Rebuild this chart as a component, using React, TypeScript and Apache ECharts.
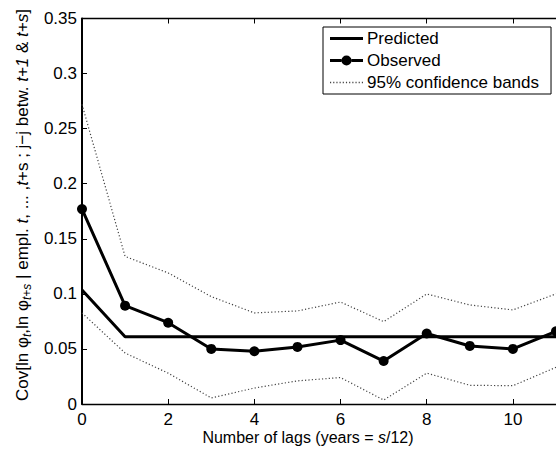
import React, { useEffect, useRef } from "react";
import * as echarts from "echarts";

const lags = [0, 1, 2, 3, 4, 5, 6, 7, 8, 9, 10, 11];
const predicted = [0.1035, 0.061, 0.061, 0.061, 0.061, 0.061, 0.061, 0.061, 0.061, 0.061, 0.061, 0.061];
const observed = [0.177, 0.0893, 0.0738, 0.05, 0.0479, 0.0518, 0.058, 0.039, 0.064, 0.0527, 0.05, 0.066];
const upperBand = [0.272, 0.134, 0.119, 0.0975, 0.0827, 0.0845, 0.0926, 0.0748, 0.0999, 0.0899, 0.0854, 0.1];
const lowerBand = [0.0827, 0.0463, 0.028, 0.0055, 0.0145, 0.021, 0.024, 0.0036, 0.028, 0.017, 0.0166, 0.0333];

const xTicks = [0, 2, 4, 6, 8, 10];
const yTickLabels = ["0", "0.05", "0.1", "0.15", "0.2", "0.25", "0.3", "0.35"];

const FONT = "'Liberation Sans', Arial, Helvetica, sans-serif";

const pairs = (arr: number[]) => lags.map((x, i) => [x, arr[i]]);

// legend icon shapes (line samples)
const solidIcon = "path://M0,0h33v3h-33z";
const markerIcon =
  "path://M0,3.5h11.5v3h-11.5z M21.5,3.5h11.5v3h-11.5z M11.5,5a5,5 0 1,0 10,0a5,5 0 1,0 -10,0z";
let dots = "path://";
for (let k = 0; k < 11; k++) dots += `M${k * 3},0h1.1v1.4h-1.1z `;
const dottedIcon = dots.trim();

export default function App() {
  const ref = useRef<HTMLDivElement>(null);
  useEffect(() => {
    if (!ref.current) return;
    const chart = echarts.init(ref.current, undefined, { renderer: "svg" });
    const bandStyle = { color: "#444", width: 1.2, type: [1.2, 2.2] as any };
    const option: any = {
      animation: false,
      backgroundColor: "#fff",
      textStyle: { fontFamily: FONT },
      grid: { left: 82, top: 18.5, right: -6, bottom: 48, containLabel: false },
      xAxis: [
        {
          type: "value",
          min: 0,
          max: 11,
          interval: 2,
          axisLine: { show: true, lineStyle: { color: "#000", width: 1.3 } },
          axisTick: { show: true, inside: true, length: 5, lineStyle: { color: "#000", width: 1 } },
          axisLabel: {
            showMaxLabel: false,
            color: "#000",
            fontSize: 17,
            fontFamily: FONT,
            margin: 7,
            formatter: (v: number) => (xTicks.indexOf(v) >= 0 ? String(v) : ""),
          },
          splitLine: { show: false },
        },
        {
          type: "value",
          position: "top",
          min: 0,
          max: 11,
          interval: 2,
          axisLine: { show: true, onZero: false, lineStyle: { color: "#000", width: 1.3 } },
          axisTick: { show: true, inside: true, length: 5, lineStyle: { color: "#000", width: 1 } },
          axisLabel: { show: false },
          splitLine: { show: false },
        },
      ],
      yAxis: {
        type: "value",
        min: 0,
        max: 0.35,
        interval: 0.05,
        axisLine: { show: true, lineStyle: { color: "#000", width: 2 } },
        axisTick: { show: true, inside: true, length: 5, lineStyle: { color: "#000", width: 1 } },
        axisLabel: {
          color: "#000",
          fontSize: 17,
          fontFamily: FONT,
          margin: 5,
          formatter: (v: number) => yTickLabels[Math.round(v / 0.05)] ?? "",
        },
        splitLine: { show: false },
      },
      legend: {
        orient: "vertical",
        left: 323,
        top: 27,
        backgroundColor: "#fff",
        borderColor: "#000",
        borderWidth: 1,
        borderRadius: 0,
        padding: [3, 12, 3, 7],
        itemGap: 5,
        itemWidth: 33,
        itemHeight: 12,
        textStyle: { color: "#000", fontSize: 17, fontFamily: FONT, padding: [0, 0, 0, -1] },
        data: [
          { name: "Predicted", icon: solidIcon },
          { name: "Observed", icon: markerIcon },
          { name: "95% confidence bands", icon: dottedIcon },
        ],
      },
      graphic: [
        {
          type: "text",
          x: 22,
          y: 205,
          rotation: Math.PI / 2,
          style: {
            text:
              "{n|Cov[ln φ}{sub|t}{n|,ln φ}{sub|t+s}{n| | empl. }{i|t}{n|, ... ,}{i|t}{n|+s ; j−j betw. }{i|t+1}{n| & }{i|t+s}{n|]}",
            align: "center",
            verticalAlign: "middle",
            fill: "#000",
            font: `17px ${FONT}`,
            rich: {
              n: { fontSize: 17, fontFamily: FONT, color: "#000" },
              i: { fontSize: 17, fontFamily: FONT, fontStyle: "italic", color: "#000" },
              sub: { fontSize: 12, fontFamily: FONT, fontStyle: "italic", color: "#000", padding: [10, 0, 0, 0] },
            },
          },
        },
        {
          type: "text",
          x: 308,
          y: 437,
          style: {
            text: "{n|Number of lags (years = }{i|s}{n|/12)}",
            align: "center",
            verticalAlign: "middle",
            fill: "#000",
            font: `16px ${FONT}`,
            rich: {
              n: { fontSize: 16, fontFamily: FONT, color: "#000" },
              i: { fontSize: 16, fontFamily: FONT, fontStyle: "italic", color: "#000" },
            },
          },
        },
      ],
      series: [
        {
          name: "95% confidence bands",
          type: "line",
          data: pairs(upperBand),
          symbol: "none",
          lineStyle: bandStyle,
          itemStyle: { color: "#444" },
        },
        {
          name: "95% confidence bands",
          type: "line",
          data: pairs(lowerBand),
          symbol: "none",
          lineStyle: bandStyle,
          itemStyle: { color: "#444" },
        },
        {
          name: "Predicted",
          type: "line",
          data: pairs(predicted),
          symbol: "none",
          lineStyle: { color: "#000", width: 3 },
          itemStyle: { color: "#000" },
        },
        {
          name: "Observed",
          type: "line",
          data: pairs(observed),
          symbol: "circle",
          symbolSize: 10,
          lineStyle: { color: "#000", width: 3 },
          itemStyle: { color: "#000" },
        },
      ],
    };
    chart.setOption(option);
    return () => chart.dispose();
  }, []);
  return (
    <div
      ref={ref}
      style={{ position: "fixed", left: 0, top: 0, width: 556, height: 452, background: "#fff" }}
    />
  );
}
